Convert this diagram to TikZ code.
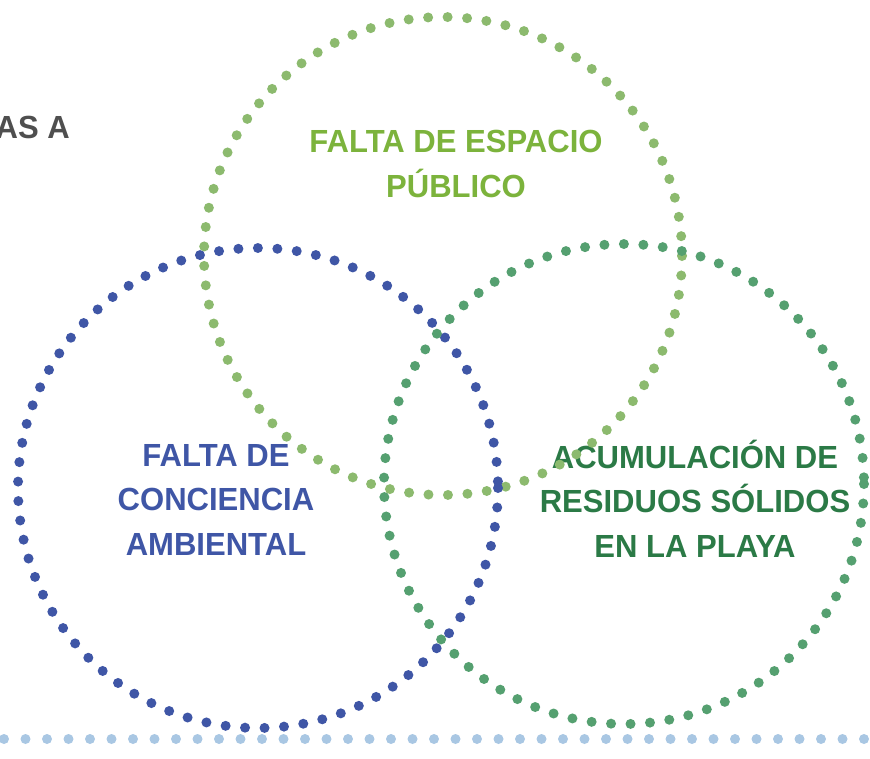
\documentclass[tikz,border=0pt]{standalone}
\usepackage{fontspec}
\setmainfont{Liberation Sans}[FakeStretch=0.97]
\usepackage{xcolor}
\usepackage{tikz}
\usetikzlibrary{positioning}
\definecolor{ringblue}{HTML}{3F56A6}
\definecolor{ringgreen}{HTML}{55A070}
\definecolor{ringlime}{HTML}{8CBA6E}
\definecolor{textgreen}{HTML}{2B7A46}
\definecolor{textlime}{HTML}{7CB33C}
\definecolor{textgray}{HTML}{4F4F4F}
\definecolor{baseblue}{HTML}{A9C7E3}
\tikzset{
label/.style={
align=center,
inner sep=0pt,
anchor=base,
font=\fontsize{32}{44.5}\selectfont\bfseries
},
ring/.style={
line width=10pt,
line cap=round,
dash pattern=on 0pt off 19.5pt
},
baseline dots/.style={
line width=10pt,
line cap=round,
color=baseblue,
dash pattern=on 0pt off 21.5pt
}
}
\begin{document}
\begin{tikzpicture}[x=1pt,y=-1pt]
\useasboundingbox (0,0) rectangle (870,758);
% labels
\node[label,anchor=base east,text=textgray](cut) at (70,138){AS A};
\node[label,text=textlime](space) at (456,197){FALTA DE ESPACIO\\P\'UBLICO};
\node[label,text=ringblue](aware) at (216,555){FALTA DE\\CONCIENCIA\\AMBIENTAL};
\node[label,text=textgreen](waste) at (695,557){ACUMULACI\'ON DE\\RESIDUOS S\'OLIDOS\\EN LA PLAYA};
% rings
\coordinate (cspace) at (443,256);
\coordinate (caware) at (258,488);
\coordinate (cwaste) at (624,484);
\draw[ring,ringlime] (cspace) circle[radius=239];
\draw[ring,ringblue] (caware) circle[radius=240];
\draw[ring,ringgreen] (cwaste) circle[radius=240];
% base line
\coordinate (bl) at (4,739);
\coordinate (br) at (875,739);
\draw[baseline dots] (bl) -- (br);
\end{tikzpicture}
\end{document}
